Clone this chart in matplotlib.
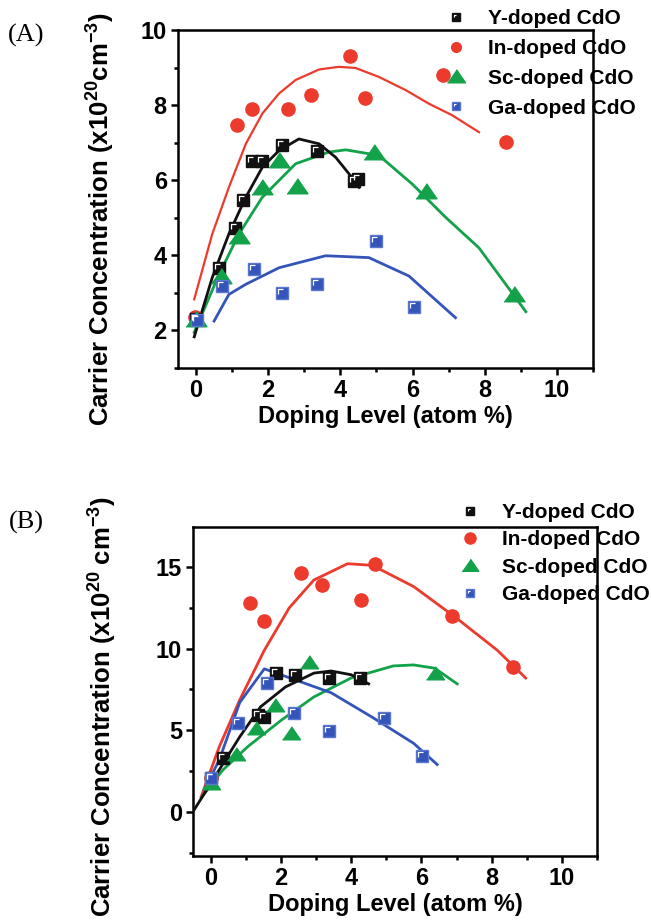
import matplotlib
matplotlib.use('Agg')
import matplotlib.pyplot as plt
from matplotlib.lines import Line2D
from matplotlib.path import Path
from matplotlib.ticker import MultipleLocator

plt.rcParams['font.family'] = ['Liberation Sans', 'DejaVu Sans']
plt.rcParams['font.weight'] = 'bold'
plt.rcParams['mathtext.fontset'] = 'custom'
plt.rcParams['mathtext.rm'] = 'Liberation Sans:bold'
plt.rcParams['mathtext.default'] = 'rm'

# ---------------- panel A data ----------------
a_y_x = [0.0, 0.65, 1.08, 1.3, 1.56, 1.84, 2.39, 3.36, 4.38, 4.5]
a_y_v = [2.3, 3.67, 4.74, 5.48, 6.51, 6.51, 6.93, 6.78, 5.99, 6.03]
a_y_fit_x = [-0.05, 0.45, 0.91, 1.38, 1.84, 2.3, 2.85, 3.41, 3.87, 4.24, 4.52]
a_y_fit_v = [1.83, 3.41, 4.57, 5.55, 6.35, 6.79, 7.1, 6.97, 6.61, 6.17, 5.81]

a_in_x = [-0.03, 1.14, 1.54, 2.56, 3.18, 4.28, 4.68, 6.85, 8.6]
a_in_v = [2.37, 7.46, 7.89, 7.89, 8.28, 9.31, 8.18, 8.8, 7.03]
a_in_fit_x = [-0.05, 0.45, 0.91, 1.38, 1.84, 2.3, 2.76, 3.41, 3.96, 4.42, 5.07, 5.81, 6.45, 7.1, 7.84]
a_in_fit_v = [2.83, 4.57, 5.81, 6.97, 7.78, 8.31, 8.67, 8.95, 9.02, 8.99, 8.75, 8.4, 8.04, 7.73, 7.28]

a_sc_x = [0.0, 0.68, 1.19, 1.84, 2.3, 2.81, 4.93, 6.36, 8.8]
a_sc_v = [2.3, 3.45, 4.52, 5.81, 6.53, 5.86, 6.75, 5.72, 2.96]
a_sc_fit_x = [-0.05, 0.64, 1.19, 1.83, 2.76, 3.68, 4.15, 5.07, 5.99, 6.92, 7.84, 9.14]
a_sc_fit_v = [1.95, 3.5, 4.57, 5.54, 6.44, 6.75, 6.81, 6.66, 5.9, 5.01, 4.2, 2.5]

a_ga_x = [0.04, 0.73, 1.61, 2.39, 3.36, 4.98, 6.04]
a_ga_v = [2.29, 3.18, 3.63, 3.0, 3.23, 4.37, 2.62]
a_ga_fit_x = [0.5, 0.91, 1.38, 2.3, 3.59, 4.79, 5.9, 7.19]
a_ga_fit_v = [2.25, 2.96, 3.23, 3.67, 3.99, 3.94, 3.45, 2.34]

# ---------------- panel B data ----------------
b_y_x = [0.0, 0.35, 1.36, 1.53, 1.87, 2.39, 3.37, 4.26]
b_y_v = [2.08, 3.3, 5.94, 5.8, 8.5, 8.4, 8.2, 8.2]
b_y_fit_x = [-0.47, 0.12, 0.83, 1.42, 2.13, 2.94, 3.43, 4.0, 4.5]
b_y_fit_v = [0.12, 2.14, 4.6, 6.43, 7.65, 8.5, 8.63, 8.4, 7.84]

b_in_x = [0.0, 1.13, 1.53, 2.56, 3.16, 4.29, 4.68, 6.88, 8.6]
b_in_v = [2.1, 12.8, 11.7, 14.6, 13.9, 13.0, 15.2, 12.0, 8.9]
b_in_fit_x = [-0.27, 0.25, 0.83, 1.53, 2.24, 2.94, 3.9, 4.6, 5.78, 6.98, 8.16, 8.97]
b_in_fit_v = [0.92, 4.0, 6.86, 9.9, 12.5, 14.2, 15.2, 15.1, 13.8, 11.9, 9.9, 8.2]

b_sc_x = [0.0, 0.71, 1.28, 1.84, 2.3, 2.8, 6.38]
b_sc_v = [1.78, 3.55, 5.14, 6.55, 4.84, 9.18, 8.5]
b_sc_fit_x = [-0.25, 0.35, 1.06, 2.02, 2.94, 4.0, 5.2, 5.78, 6.38, 7.02]
b_sc_fit_v = [0.92, 2.57, 4.0, 5.63, 7.04, 8.2, 8.94, 9.0, 8.8, 7.84]

b_ga_x = [0.0, 0.78, 1.6, 2.38, 3.37, 4.93, 6.03]
b_ga_v = [2.08, 5.45, 7.9, 6.06, 4.96, 5.76, 3.43]
b_ga_fit_x = [-0.18, 0.25, 0.83, 1.53, 3.43, 4.6, 5.78, 6.45]
b_ga_fit_v = [1.35, 3.2, 6.7, 8.76, 7.3, 5.8, 4.2, 2.9]

labels = ['Y-doped CdO', 'In-doped CdO', 'Sc-doped CdO', 'Ga-doped CdO']

RED = '#ec3a2d'
GREEN = '#13a24a'
BLUE = '#3554b9'
BLACK = '#111111'

corner = Path([(-0.3, -0.05), (-0.3, 0.3), (0.05, 0.3)],
              [Path.MOVETO, Path.LINETO, Path.LINETO])
tri = [(-1, -0.7), (1, -0.7), (0, 0.75)]


def square_pts(ax, x, v, fc, ec, ms):
    ax.plot(x, v, ls='none', marker='s', ms=ms, mfc=fc, mec=ec, mew=1, zorder=4)
    ax.plot(x, v, ls='none', marker=corner, ms=ms * 0.6, mfc='none',
            mec='white', mew=0.9, zorder=5)


def style_axes(ax, ylim, ymaj, ymin, ylabel):
    ax.set_xlim(-0.5, 11)
    ax.set_ylim(*ylim)
    ax.xaxis.set_major_locator(MultipleLocator(2))
    ax.xaxis.set_minor_locator(MultipleLocator(1))
    ax.yaxis.set_major_locator(MultipleLocator(ymaj))
    ax.yaxis.set_minor_locator(MultipleLocator(ymin))
    ax.tick_params(which='both', direction='out', top=False, right=False,
                   width=1.8, labelsize=17, pad=3)
    ax.tick_params(which='major', length=5)
    ax.tick_params(which='minor', length=3)
    for s in ax.spines.values():
        s.set_linewidth(1.8)
    ax.set_xlabel('Doping Level (atom %)', fontsize=17, fontweight='bold', labelpad=2)
    ax.set_ylabel(ylabel, fontsize=18.5, fontweight='bold', va='center')


def legend_handles(ms_sq, ms_ci, ms_tr):
    h_y = (Line2D([], [], ls='none', marker='s', ms=ms_sq, mfc=BLACK, mec=BLACK),
           Line2D([], [], ls='none', marker=corner, ms=ms_sq * 0.6, mfc='none', mec='white', mew=0.8))
    h_in = Line2D([], [], ls='none', marker='o', ms=ms_ci, mfc=RED, mec=RED)
    h_sc = Line2D([], [], ls='none', marker=tri, ms=ms_tr, mfc=GREEN, mec=GREEN)
    h_ga = (Line2D([], [], ls='none', marker='s', ms=ms_sq, mfc=BLUE, mec='#5a78d0'),
            Line2D([], [], ls='none', marker=corner, ms=ms_sq * 0.6, mfc='none', mec='white', mew=0.8))
    return [h_y, h_in, h_sc, h_ga]


fig = plt.figure(figsize=(6.51, 9.24), dpi=100)

# ---------------- panel A ----------------
ax1 = fig.add_axes([0.2734, 0.6017, 0.6375, 0.3658])
ax1.plot(a_in_fit_x, a_in_fit_v, color=RED, lw=1.6, zorder=2)
ax1.plot(a_sc_fit_x, a_sc_fit_v, color=GREEN, lw=2.0, zorder=2)
ax1.plot(a_ga_fit_x, a_ga_fit_v, color=BLUE, lw=2.0, zorder=2)
ax1.plot(a_y_fit_x, a_y_fit_v, color=BLACK, lw=2.0, zorder=3)
ax1.plot(a_in_x, a_in_v, ls='none', marker='o', ms=9.5, mfc=RED, mec=RED, zorder=4)
square_pts(ax1, a_y_x, a_y_v, BLACK, BLACK, 8.5)
ax1.plot(a_sc_x, a_sc_v, ls='none', marker=tri, ms=15, mfc=GREEN, mec=GREEN, zorder=4)
square_pts(ax1, a_ga_x, a_ga_v, BLUE, '#5a78d0', 8.5)
style_axes(ax1, (1, 10), 2, 1, r'Carrier Concentration (x10$^{20}$cm$^{-3}$)')
ax1.yaxis.set_label_coords(-0.185, 0.441)
ax1.legend(legend_handles(6, 7, 13), labels, loc='upper left',
           bbox_to_anchor=(446 / 651, 1 - 9 / 924), bbox_transform=fig.transFigure,
           frameon=False, fontsize=15, handlelength=1.0, handletextpad=1.0,
           labelspacing=0.52, borderpad=0, borderaxespad=0)

# ---------------- panel B ----------------
ax2 = fig.add_axes([0.2965, 0.0736, 0.6206, 0.3561])
ax2.plot(b_in_fit_x, b_in_fit_v, color=RED, lw=2.0, zorder=2)
ax2.plot(b_sc_fit_x, b_sc_fit_v, color=GREEN, lw=2.0, zorder=2)
ax2.plot(b_ga_fit_x, b_ga_fit_v, color=BLUE, lw=2.0, zorder=2)
ax2.plot(b_y_fit_x, b_y_fit_v, color=BLACK, lw=2.0, zorder=3)
ax2.plot(b_in_x, b_in_v, ls='none', marker='o', ms=9.5, mfc=RED, mec=RED, zorder=4)
square_pts(ax2, b_y_x, b_y_v, BLACK, BLACK, 8.5)
ax2.plot(b_sc_x, b_sc_v, ls='none', marker=tri, ms=13, mfc=GREEN, mec=GREEN, zorder=4)
square_pts(ax2, b_ga_x, b_ga_v, BLUE, '#5a78d0', 8.5)
style_axes(ax2, (-2.7, 17.45), 5, 2.5, r'Carrier Concentration (x10$^{20}$ cm$^{-3}$)')
ax2.yaxis.set_label_coords(-0.222, 0.453)
ax2.legend(legend_handles(6, 8, 12), labels, loc='upper left',
           bbox_to_anchor=(460 / 651, 1 - 503 / 924), bbox_transform=fig.transFigure,
           frameon=False, fontsize=15, handlelength=1.0, handletextpad=1.0,
           labelspacing=0.4, borderpad=0, borderaxespad=0)

# panel letters
fig.text(26 / 651, 1 - 35 / 924, '(A)', family='Liberation Serif', fontweight='normal',
         fontsize=19, ha='center', va='center')
fig.text(26 / 651, 1 - 522 / 924, '(B)', family='Liberation Serif', fontweight='normal',
         fontsize=19, ha='center', va='center')

fig.savefig('out.png', dpi=100)
